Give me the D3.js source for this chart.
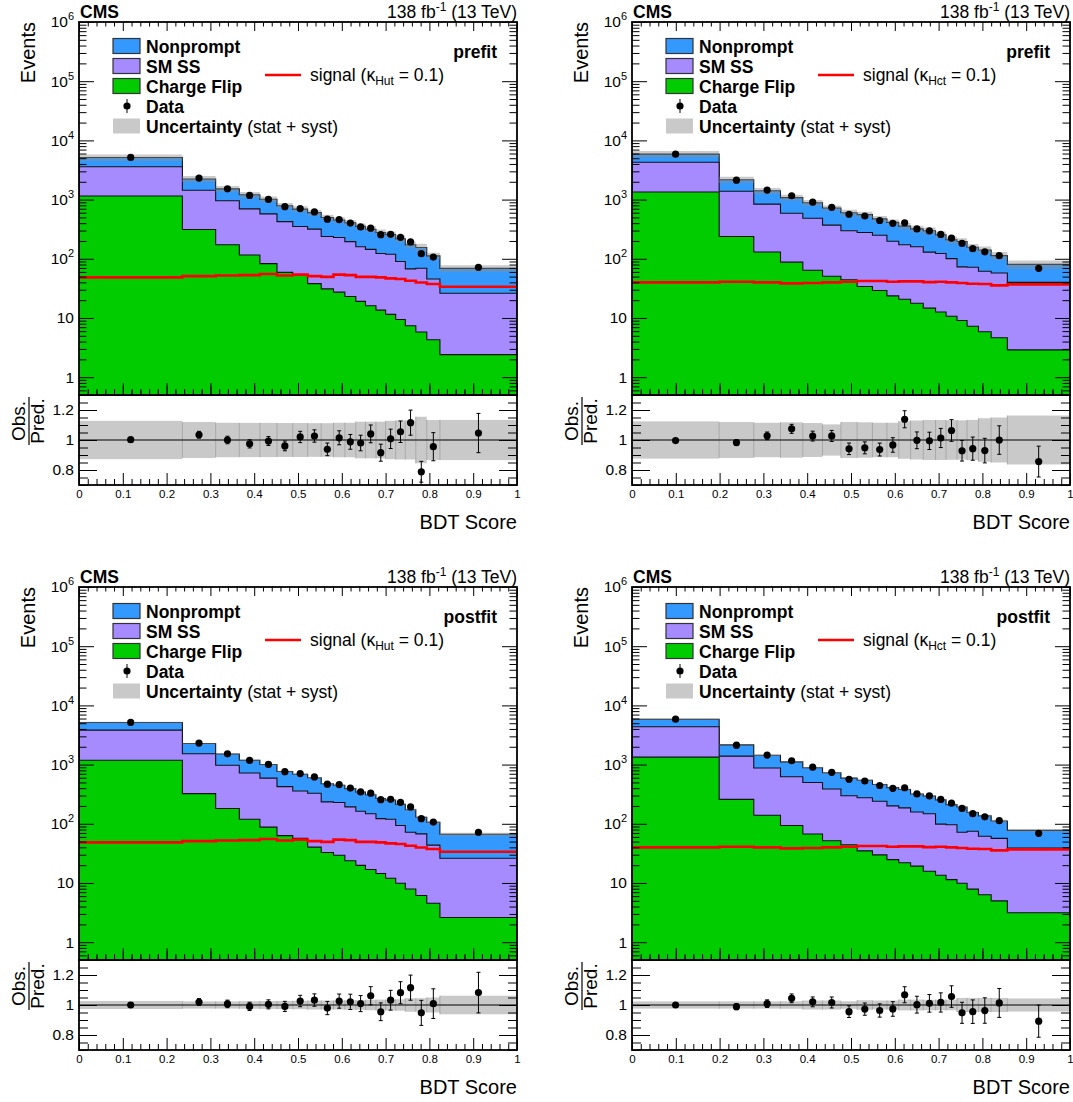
<!DOCTYPE html>
<meta charset="utf-8">
<title>BDT score, prefit and postfit</title>
<script src="https://d3js.org/d3.v7.min.js"></script>
<style>
  body { margin: 0; background: #fff; overflow: hidden; }
  svg { font-family: "Liberation Sans", Arial, Helvetica, sans-serif; }
</style>
<div id="my_dataviz"></div>
<script>

// bin edges of the BDT score
var edgesHut = [0, 0.236, 0.312, 0.366, 0.413, 0.452, 0.488, 0.522, 0.553, 0.581, 0.607, 0.632, 0.654, 0.678, 0.700, 0.723, 0.745, 0.769, 0.794, 0.824, 1];
var edgesHct = [0, 0.199, 0.278, 0.339, 0.390, 0.435, 0.477, 0.514, 0.549, 0.582, 0.609, 0.636, 0.665, 0.693, 0.717, 0.742, 0.765, 0.791, 0.820, 0.857, 1];

// observed events (same for prefit and postfit) and their relative stat error
var dataHut = [5150, 2310, 1520, 1175, 1005, 758, 705, 618, 466, 460, 401, 346, 329, 255, 259, 230, 193, 122, 107, 72];
var dataHct = [5850, 2130, 1450, 1160, 905, 740, 565, 528, 443, 398, 406, 320, 296, 258, 223, 182, 148, 131, 113, 69];
var dataErrHut = [0.014, 0.022, 0.025, 0.028, 0.03, 0.034, 0.037, 0.04, 0.045, 0.046, 0.05, 0.053, 0.057, 0.062, 0.064, 0.068, 0.075, 0.088, 0.098, 0.125];
var dataErrHct = [0.013, 0.02, 0.025, 0.028, 0.032, 0.036, 0.041, 0.042, 0.046, 0.05, 0.05, 0.056, 0.058, 0.063, 0.068, 0.074, 0.082, 0.088, 0.095, 0.12];

// signal, kappa = 0.1
var signalHut = [48.6, 50.9, 52.3, 52.9, 55.4, 52.3, 54.1, 50.9, 49.5, 54.1, 52.9, 49.5, 49.5, 48.6, 46.7, 45.5, 42.5, 39.7, 37.6, 33.7];
var signalHct = [39.9, 41.0, 39.9, 38.4, 38.9, 39.9, 41.0, 42.1, 42.1, 41.0, 41.5, 41.5, 40.4, 41.0, 39.9, 38.9, 37.9, 37.4, 35.5, 36.9];

// prefit backgrounds
var nonpromptHutPre = [1546, 797, 565, 509, 439, 365, 339, 285, 259, 224, 211, 193, 172, 156, 138, 128, 105.5, 85.5, 66.5, 42.6];
var smssHutPre = [2446, 1122, 782, 581, 490, 365, 298, 279, 207, 202, 172, 141, 128, 109, 107.5, 80.6, 60.1, 63.5, 41.2, 23.8];
var flipHutPre = [1148, 313, 173, 116, 83, 59, 54, 38, 31, 27.3, 23, 19.1, 16.1, 13.6, 11.5, 9.4, 7.4, 5.8, 4.3, 2.4];
var uncHutPre = [0.128, 0.12, 0.115, 0.114, 0.114, 0.113, 0.113, 0.112, 0.112, 0.115, 0.115, 0.122, 0.122, 0.122, 0.128, 0.13, 0.13, 0.155, 0.133, 0.134];

var nonpromptHctPre = [1609, 787, 573, 492, 399, 350, 303, 279, 223, 214, 184, 161, 168, 132, 109, 123, 85, 79.5, 55.4, 40.7];
var smssHctPre = [2921, 1142, 708, 500, 419, 320, 253, 244, 221, 174, 152, 142, 115, 110, 90, 64, 64.8, 55.6, 53, 37];
var flipHctPre = [1343, 238, 130, 87.7, 64, 50.6, 44.3, 34.1, 29.1, 23.6, 20.7, 17.7, 14.7, 12.6, 10.7, 9.06, 7.25, 5.87, 4.64, 2.89];
var uncHctPre = [0.124, 0.12, 0.115, 0.118, 0.113, 0.104, 0.12, 0.118, 0.115, 0.115, 0.125, 0.13, 0.133, 0.133, 0.132, 0.131, 0.134, 0.145, 0.15, 0.163];

// postfit backgrounds
var nonpromptHutPost = [1322, 741, 535, 466, 410, 340, 329, 271, 241, 219, 200, 180, 162, 145, 132, 119, 101, 61.3, 62.4, 40.4];
var smssHutPost = [2642, 1201, 793, 601, 503, 362, 301, 287, 202, 200, 169, 143, 131, 107.5, 107, 83.7, 64.1, 61.3, 39.1, 23.5];
var flipHutPost = [1186, 323, 181, 119, 87.7, 63.1, 56.8, 40.3, 32.7, 29.4, 23.8, 19.8, 16.9, 14.5, 12.0, 9.9, 7.9, 6.15, 4.54, 2.61];
var uncHutPost = [0.027, 0.024, 0.024, 0.025, 0.026, 0.027, 0.028, 0.03, 0.03, 0.03, 0.031, 0.032, 0.035, 0.036, 0.036, 0.038, 0.045, 0.045, 0.05, 0.062];

var nonpromptHctPost = [1485, 765, 560, 488, 388, 340, 293, 268, 219, 208, 194, 161, 145, 155, 115, 120, 80, 74.5, 54.7, 38.5];
var smssHctPost = [3029, 1131, 738, 529, 431, 336, 254, 240, 211, 176, 164, 139, 132, 85.2, 84.7, 62.1, 67, 55.2, 51.8, 35.7];
var flipHctPost = [1336, 258, 139, 93.6, 67.4, 51.8, 44.2, 34.9, 29.8, 24.8, 22.0, 19.3, 15.8, 13.5, 11.4, 9.87, 7.89, 6.31, 4.98, 3.14];
var uncHctPost = [0.024, 0.024, 0.024, 0.025, 0.03, 0.03, 0.025, 0.032, 0.03, 0.03, 0.036, 0.036, 0.035, 0.035, 0.035, 0.047, 0.047, 0.047, 0.047, 0.044];

// tick labels
var xTicks = [0, 0.1, 0.2, 0.3, 0.4, 0.5, 0.6, 0.7, 0.8, 0.9, 1];
var yTicks = [1, 10, 100, 1e3, 1e4, 1e5, 1e6];
var ratioTicks = [0.8, 1, 1.2];

var colors = {nonprompt: "#3399ff", smss: "#a58bff", flip: "#00cc00", signal: "#ff0000", band: "#c9c9c9"};

var panels = [
  {dx: 0,   dy: 0,   fit: "prefit",  coup: "Hut", edges: edgesHut, data: dataHut, err: dataErrHut, sig: signalHut, np: nonpromptHutPre,  sm: smssHutPre,  cf: flipHutPre,  unc: uncHutPre},
  {dx: 553, dy: 0,   fit: "prefit",  coup: "Hct", edges: edgesHct, data: dataHct, err: dataErrHct, sig: signalHct, np: nonpromptHctPre,  sm: smssHctPre,  cf: flipHctPre,  unc: uncHctPre},
  {dx: 0,   dy: 565, fit: "postfit", coup: "Hut", edges: edgesHut, data: dataHut, err: dataErrHut, sig: signalHut, np: nonpromptHutPost, sm: smssHutPost, cf: flipHutPost, unc: uncHutPost},
  {dx: 553, dy: 565, fit: "postfit", coup: "Hct", edges: edgesHct, data: dataHct, err: dataErrHct, sig: signalHct, np: nonpromptHctPost, sm: smssHctPost, cf: flipHctPost, unc: uncHctPost}
];

var svg = d3.select("#my_dataviz").append("svg")
  .attr("width", 1073)
  .attr("height", 1102);

// pad geometry inside one panel
var L = 79, R = 517, T = 22, M = 395, B = 485;

function styleAxis(sel) {
  sel.select(".domain").remove();
  sel.selectAll("line").attr("stroke", "#000").attr("stroke-width", 1);
}

function drawPanel(p, k) {
  var g = svg.append("g").attr("transform", "translate(" + p.dx + "," + p.dy + ")");
  var n = p.data.length;

  var x = d3.scaleLinear().domain([0, 1]).range([L, R]);
  var y = d3.scaleLog().domain([0.5, 1e6]).range([M, T]);
  var r = d3.scaleLinear().domain([0.7, 1.3]).range([B, M]);

  var lvl1 = p.cf;
  var lvl2 = p.cf.map(function(v, i) { return v + p.sm[i]; });
  var total = lvl2.map(function(v, i) { return v + p.np[i]; });

  // points on bin edges for step curves
  function steps(vals) {
    return p.edges.map(function(e, i) { return {x: e, v: vals[Math.min(i, n - 1)], i: Math.min(i, n - 1)}; });
  }

  g.append("clipPath").attr("id", "clip" + k)
    .append("rect").attr("x", L).attr("y", T).attr("width", R - L).attr("height", M - T);
  var main = g.append("g").attr("clip-path", "url(#clip" + k + ")");

  var area = d3.area().curve(d3.curveStepAfter)
    .x(function(d) { return x(d.x); })
    .y0(M)
    .y1(function(d) { return y(d.v); });

  [[total, colors.nonprompt], [lvl2, colors.smss], [lvl1, colors.flip]].forEach(function(s) {
    main.append("path")
      .datum(steps(s[0]))
      .attr("d", area)
      .attr("fill", s[1])
      .attr("stroke", "#111")
      .attr("stroke-width", 1.1);
  });

  // uncertainty band on the total
  var band = d3.area().curve(d3.curveStepAfter)
    .x(function(d) { return x(d.x); })
    .y0(function(d) { return y(d.v * (1 - p.unc[d.i])); })
    .y1(function(d) { return y(d.v * (1 + p.unc[d.i])); });
  main.append("path")
    .datum(steps(total))
    .attr("d", band)
    .attr("fill", "#8c8c8c")
    .attr("fill-opacity", 0.45);

  // signal
  var line = d3.line().curve(d3.curveStepAfter)
    .x(function(d) { return x(d.x); })
    .y(function(d) { return y(d.v); });
  main.append("path")
    .datum(steps(p.sig))
    .attr("d", line)
    .attr("fill", "none")
    .attr("stroke", colors.signal)
    .attr("stroke-width", 2.6);

  // data points
  var centers = p.data.map(function(v, i) { return (p.edges[i] + p.edges[i + 1]) / 2; });
  var pts = main.selectAll(".pt").data(p.data).enter().append("g");
  pts.append("line")
    .attr("x1", function(d, i) { return x(centers[i]); })
    .attr("x2", function(d, i) { return x(centers[i]); })
    .attr("y1", function(d, i) { return y(d * (1 - p.err[i])); })
    .attr("y2", function(d, i) { return y(d * (1 + p.err[i])); })
    .attr("stroke", "#000");
  pts.append("circle")
    .attr("cx", function(d, i) { return x(centers[i]); })
    .attr("cy", function(d) { return y(d); })
    .attr("r", 3.6)
    .attr("fill", "#000");

  // ratio pad
  var ratio = p.data.map(function(v, i) { return v / total[i]; });
  var rp = g.append("g");
  rp.selectAll(".rb").data(p.unc).enter().append("rect")
    .attr("x", function(d, i) { return x(p.edges[i]); })
    .attr("width", function(d, i) { return x(p.edges[i + 1]) - x(p.edges[i]); })
    .attr("y", function(d) { return r(1 + d); })
    .attr("height", function(d) { return r(1 - d) - r(1 + d); })
    .attr("fill", colors.band);
  rp.selectAll(".re").data(p.unc).enter().append("line")
    .attr("x1", function(d, i) { return x(p.edges[i]); })
    .attr("x2", function(d, i) { return x(p.edges[i]); })
    .attr("y1", function(d) { return r(1 + d); })
    .attr("y2", function(d) { return r(1 - d); })
    .attr("stroke", "#a8a8a8")
    .attr("stroke-width", 1);
  rp.append("line")
    .attr("x1", L).attr("x2", R).attr("y1", r(1)).attr("y2", r(1))
    .attr("stroke", "#000").attr("stroke-width", 1.1);
  var rpts = rp.selectAll(".rpt").data(ratio).enter().append("g");
  rpts.append("line")
    .attr("x1", function(d, i) { return x(centers[i]); })
    .attr("x2", function(d, i) { return x(centers[i]); })
    .attr("y1", function(d, i) { return r(d * (1 - p.err[i])); })
    .attr("y2", function(d, i) { return r(d * (1 + p.err[i])); })
    .attr("stroke", "#000");
  [-1, 1].forEach(function(s) {
    rpts.append("line")
      .attr("x1", function(d, i) { return x(centers[i]) - 2; })
      .attr("x2", function(d, i) { return x(centers[i]) + 2; })
      .attr("y1", function(d, i) { return r(d * (1 + s * p.err[i])); })
      .attr("y2", function(d, i) { return r(d * (1 + s * p.err[i])); })
      .attr("stroke", "#000");
  });
  rpts.append("circle")
    .attr("cx", function(d, i) { return x(centers[i]); })
    .attr("cy", function(d) { return r(d); })
    .attr("r", 3.6)
    .attr("fill", "#000");

  // axes: ticks point inside the frame
  var xMinor = d3.range(0, 51).map(function(i) { return i / 50; }).filter(function(v, i) { return i % 5 != 0; });
  var yMinor = y.ticks().filter(function(v) { return Math.abs(Math.log10(v) - Math.round(Math.log10(v))) > 1e-6; });
  var rMinor = d3.range(0, 13).map(function(i) { return 0.7 + i * 0.05; })
    .filter(function(v) { return ratioTicks.every(function(t) { return Math.abs(t - v) > 1e-6; }); });

  function ax(gen, tx, ty, vals, size, fmt) {
    var a = g.append("g").attr("transform", "translate(" + tx + "," + ty + ")")
      .call(gen.tickValues(vals).tickSize(-size).tickPadding(5).tickFormat(fmt || ""));
    styleAxis(a);
    return a;
  }

  // main pad
  var yl = ax(d3.axisLeft(y), L, 0, yTicks, 15, function(d) { return d; });
  ax(d3.axisLeft(y), L, 0, yMinor, 7.5);
  ax(d3.axisRight(y), R, 0, yTicks, 15);
  ax(d3.axisRight(y), R, 0, yMinor, 7.5);
  ax(d3.axisTop(x), 0, T, xTicks, 9);
  ax(d3.axisTop(x), 0, T, xMinor, 4.5);
  ax(d3.axisBottom(x), 0, M, xTicks, 9);
  ax(d3.axisBottom(x), 0, M, xMinor, 4.5);
  yl.selectAll("text")
    .attr("font-size", "15.5px")
    .attr("fill", "#000")
    .each(function(d) {
      var t = d3.select(this).text(null);
      var e = Math.round(Math.log10(d));
      if (e < 2) { t.text(d); return; }
      t.append("tspan").text("10");
      t.append("tspan").attr("dy", "-7").attr("font-size", "11px").text(e);
    });

  // ratio pad
  var rl = ax(d3.axisLeft(r), L, 0, ratioTicks, 18, function(d) { return d == 1 ? "1" : d3.format(".1f")(d); });
  ax(d3.axisLeft(r), L, 0, rMinor, 9);
  ax(d3.axisRight(r), R, 0, ratioTicks, 18);
  ax(d3.axisRight(r), R, 0, rMinor, 9);
  var xl = ax(d3.axisBottom(x), 0, B, xTicks, 12, function(d) { return d; });
  ax(d3.axisBottom(x), 0, B, xMinor, 6);
  ax(d3.axisTop(x), 0, M, xTicks, -12);
  ax(d3.axisTop(x), 0, M, xMinor, -6);
  rl.selectAll("text").attr("font-size", "15.5px").attr("fill", "#000");
  xl.selectAll("text").attr("font-size", "11.5px").attr("fill", "#000");

  // frames
  g.append("rect").attr("x", L).attr("y", T).attr("width", R - L).attr("height", M - T)
    .attr("fill", "none").attr("stroke", "#000").attr("stroke-width", 1.8);
  g.append("rect").attr("x", L).attr("y", M).attr("width", R - L).attr("height", B - M)
    .attr("fill", "none").attr("stroke", "#000").attr("stroke-width", 1.8);

  // titles
  g.append("text").attr("x", L + 1).attr("y", 18)
    .attr("font-size", "17.5px").attr("font-weight", "bold").text("CMS");
  var lumi = g.append("text").attr("x", R).attr("y", 18).attr("text-anchor", "end").attr("font-size", "17.5px");
  lumi.append("tspan").text("138 fb");
  lumi.append("tspan").attr("dy", "-7").attr("font-size", "12px").text("-1");
  lumi.append("tspan").attr("dy", "7").text(" (13 TeV)");

  g.append("text")
    .attr("transform", "translate(35," + T + ") rotate(-90)")
    .attr("text-anchor", "end")
    .attr("font-size", "20px")
    .text("Events");

  var frac = g.append("g").attr("transform", "translate(29,421) rotate(-90)");
  frac.append("text").attr("y", -4).attr("text-anchor", "middle").attr("font-size", "19px").text("Obs.");
  frac.append("line").attr("x1", -24).attr("x2", 24).attr("y1", 0).attr("y2", 0).attr("stroke", "#000").attr("stroke-width", 1.2);
  frac.append("text").attr("y", 15).attr("text-anchor", "middle").attr("font-size", "19px").text("Pred.");

  g.append("text").attr("x", R).attr("y", 529).attr("text-anchor", "end")
    .attr("font-size", "20px").text("BDT Score");

  g.append("text").attr("x", 497).attr("y", 58).attr("text-anchor", "end")
    .attr("font-size", "17.5px").attr("font-weight", "bold").text(p.fit);

  // legend
  var leg = [
    {name: "Nonprompt", fill: colors.nonprompt},
    {name: "SM SS", fill: colors.smss},
    {name: "Charge Flip", fill: colors.flip},
    {name: "Data"},
    {name: "Uncertainty", fill: colors.band, extra: " (stat + syst)"}
  ];
  leg.forEach(function(l, i) {
    var cy = 46 + i * 20;
    if (l.name == "Data") {
      g.append("line").attr("x1", 127).attr("x2", 127).attr("y1", cy - 7).attr("y2", cy + 7).attr("stroke", "#000");
      g.append("circle").attr("cx", 127).attr("cy", cy).attr("r", 3.6).attr("fill", "#000");
    } else {
      g.append("rect").attr("x", 113).attr("y", cy - 7.5).attr("width", 27).attr("height", 15)
        .attr("fill", l.fill)
        .attr("stroke", l.name == "Uncertainty" ? "none" : "#333").attr("stroke-width", 1.2);
    }
    var t = g.append("text").attr("x", 146).attr("y", cy + 6.5).attr("font-size", "17.5px");
    t.append("tspan").attr("font-weight", "bold").text(l.name);
    if (l.extra) t.append("tspan").text(l.extra);
  });

  g.append("line").attr("x1", 265).attr("x2", 301).attr("y1", 75).attr("y2", 75)
    .attr("stroke", colors.signal).attr("stroke-width", 2.6);
  var st = g.append("text").attr("x", 310).attr("y", 81).attr("font-size", "17.5px");
  st.append("tspan").text("signal (\u03ba");
  st.append("tspan").attr("dy", "4").attr("font-size", "12px").text(p.coup);
  st.append("tspan").attr("dy", "-4").text(" = 0.1)");
}

panels.forEach(drawPanel);

</script>
